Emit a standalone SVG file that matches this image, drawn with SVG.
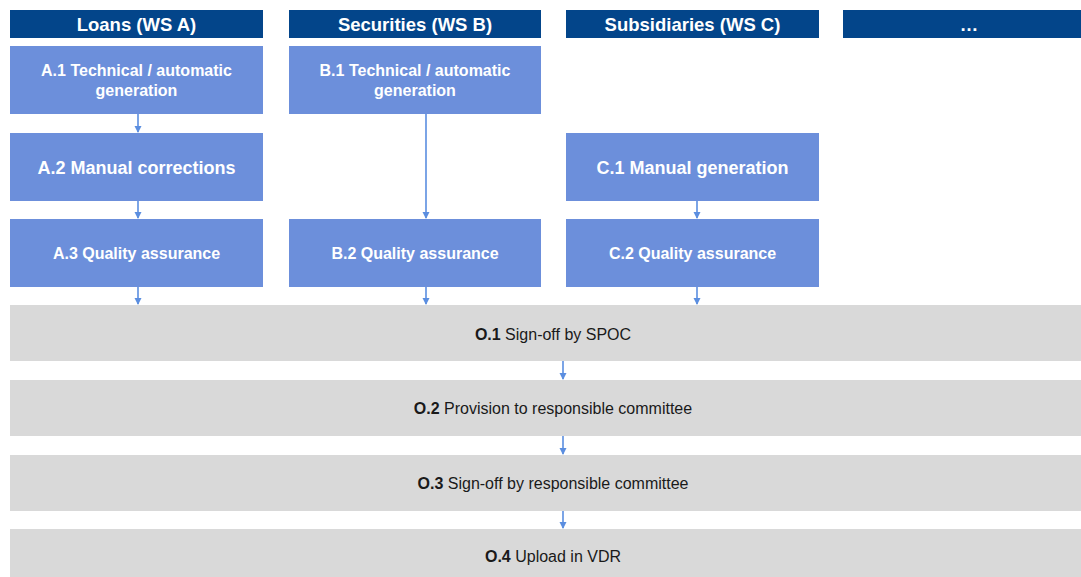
<svg xmlns="http://www.w3.org/2000/svg" width="1081" height="577" viewBox="0 0 1081 577">
<defs>
<style>
.hdr{fill:#03458A}
.blue{fill:#6C8FDB}
.gray{fill:#D9D9D9}
.ht{font-family:"Liberation Sans",Arial,sans-serif;font-weight:bold;font-size:18.5px;fill:#FFFFFF;text-anchor:middle}
.bt{font-family:"Liberation Sans",Arial,sans-serif;font-weight:bold;font-size:16px;fill:#FFFFFF;text-anchor:middle}
.bt.big{font-size:18px}
.gt{font-family:"Liberation Sans",Arial,sans-serif;font-size:16px;fill:#1A1A1A;text-anchor:middle}
.gt tspan.b{font-weight:bold}
.conn{stroke:#5B8EE0;stroke-width:1.6;fill:none}
</style>
<marker id="ah" markerWidth="8" markerHeight="8" refX="6" refY="4" orient="auto" markerUnits="userSpaceOnUse">
<path d="M0,0.5 L7,4 L0,7.5 Z" fill="#5B8EE0"/>
</marker>
</defs>
<rect width="1081" height="577" fill="#FFFFFF"/>

<g id="header-a"><rect class="hdr" x="10" y="10" width="253" height="28"/><text class="ht" x="136.5" y="31">Loans (WS A)</text></g>
<g id="header-b"><rect class="hdr" x="289" y="10" width="252" height="28"/><text class="ht" x="415" y="31">Securities (WS B)</text></g>
<g id="header-c"><rect class="hdr" x="566" y="10" width="253" height="28"/><text class="ht" x="692.5" y="31">Subsidiaries (WS C)</text></g>
<g id="header-d"><rect class="hdr" x="843" y="10" width="238" height="28"/><text class="ht" x="969" y="31">…</text></g>

<g id="a1"><rect class="blue" x="10" y="46" width="253" height="68"/><text class="bt" x="136.5" y="76">A.1 Technical / automatic</text><text class="bt" x="136.5" y="96">generation</text></g>
<g id="a2"><rect class="blue" x="10" y="133" width="253" height="68"/><text class="bt big" x="136.5" y="173.5">A.2 Manual corrections</text></g>
<g id="a3"><rect class="blue" x="10" y="219" width="253" height="68"/><text class="bt" x="136.5" y="259">A.3 Quality assurance</text></g>

<g id="b1"><rect class="blue" x="289" y="46" width="252" height="68"/><text class="bt" x="415" y="76">B.1 Technical / automatic</text><text class="bt" x="415" y="96">generation</text></g>
<g id="b2"><rect class="blue" x="289" y="219" width="252" height="68"/><text class="bt" x="415" y="259">B.2 Quality assurance</text></g>

<g id="c1"><rect class="blue" x="566" y="133" width="253" height="68"/><text class="bt big" x="692.5" y="173.5">C.1 Manual generation</text></g>
<g id="c2"><rect class="blue" x="566" y="219" width="253" height="68"/><text class="bt" x="692.5" y="259">C.2 Quality assurance</text></g>

<g id="o1"><rect class="gray" x="10" y="305" width="1071" height="56"/><text class="gt" x="553" y="339.5"><tspan class="b">O.1</tspan> Sign-off by SPOC</text></g>
<g id="o2"><rect class="gray" x="10" y="380" width="1071" height="56"/><text class="gt" x="553" y="413.5"><tspan class="b">O.2</tspan> Provision to responsible committee</text></g>
<g id="o3"><rect class="gray" x="10" y="455" width="1071" height="56"/><text class="gt" x="553" y="488.5"><tspan class="b">O.3</tspan> Sign-off by responsible committee</text></g>
<g id="o4"><rect class="gray" x="10" y="529" width="1071" height="48"/><text class="gt" x="553" y="561.5"><tspan class="b">O.4</tspan> Upload in VDR</text></g>

<g id="connectors">
<line class="conn" x1="138" y1="114" x2="138" y2="132" marker-end="url(#ah)"/>
<line class="conn" x1="138" y1="201" x2="138" y2="218" marker-end="url(#ah)"/>
<line class="conn" x1="138" y1="287" x2="138" y2="304" marker-end="url(#ah)"/>
<line class="conn" x1="426" y1="114" x2="426" y2="218" marker-end="url(#ah)"/>
<line class="conn" x1="426" y1="287" x2="426" y2="304" marker-end="url(#ah)"/>
<line class="conn" x1="697" y1="201" x2="697" y2="218" marker-end="url(#ah)"/>
<line class="conn" x1="697" y1="287" x2="697" y2="304" marker-end="url(#ah)"/>
<line class="conn" x1="563" y1="361" x2="563" y2="379" marker-end="url(#ah)"/>
<line class="conn" x1="563" y1="436" x2="563" y2="454" marker-end="url(#ah)"/>
<line class="conn" x1="563" y1="511" x2="563" y2="528" marker-end="url(#ah)"/>
</g>
</svg>
